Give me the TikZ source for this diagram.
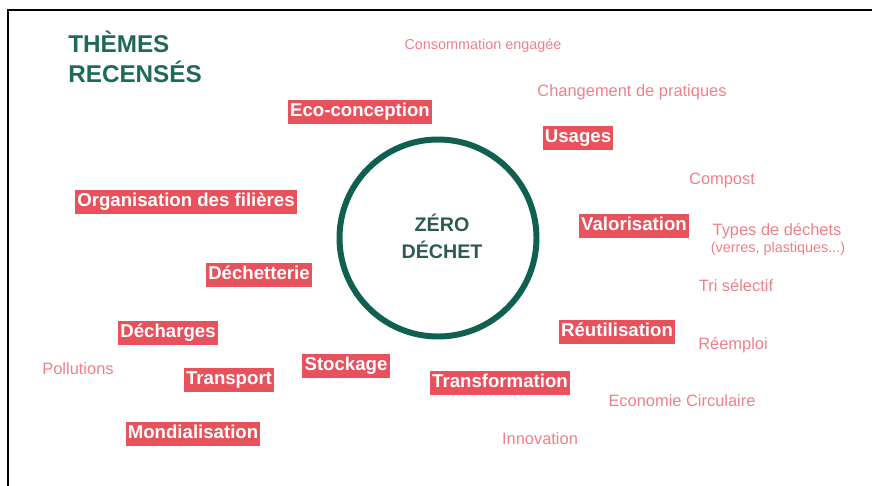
\documentclass[tikz,border=0pt]{standalone}
\usepackage{fontspec}
\setmainfont{Liberation Sans}
\usetikzlibrary{positioning}
\definecolor{zdteal}{RGB}{16,96,82}
\definecolor{zdtitle}{RGB}{30,105,88}
\definecolor{zdcentre}{RGB}{45,90,82}
\definecolor{zdred}{RGB}{232,82,92}
\definecolor{zdpink}{RGB}{240,128,136}

\begin{document}
\begin{tikzpicture}[x=0.02cm, y=-0.02cm,
    theme/.style={fill=zdred, text=white, font=\bfseries\fontsize{10.6}{12}\selectfont,
      inner xsep=1.2pt, inner ysep=1.6pt, text height=8pt, text depth=2.4pt},
    subtheme/.style={text=zdpink, font=\fontsize{9.35}{11}\selectfont, inner sep=0pt},
    smallsub/.style={text=zdpink, font=\fontsize{8.2}{10}\selectfont, inner sep=0pt},
    heading/.style={text=zdtitle, font=\bfseries\fontsize{13.8}{17}\selectfont, inner sep=0pt, anchor=base west},
    centre/.style={text=zdcentre, font=\bfseries\fontsize{11.2}{14}\selectfont, inner sep=0pt, anchor=base}]
    \useasboundingbox (0,0) rectangle (872,486);
    % frame
    \draw[line width=1.2pt] (8,486) -- (8,10) -- (872,10);
    % title
    \node[heading] at (68,53) (titre1) {THÈMES};
    \node[heading] at (68,83) (titre2) {RECENSÉS};
    % centre
    \node[circle, draw=zdteal, line width=3.4pt, minimum size=197*0.02cm] at (438,238) (zd) {};
    \node[centre] at (442,232) (zero) {ZÉRO};
    \node[centre] at (442,258) (dechet) {DÉCHET};
    % main themes
    \node[theme] at (360,112) (ecoconception) {Eco-conception};
    \node[theme] at (578,138) (usages) {Usages};
    \node[theme] at (186,202) (organisation) {Organisation des filières};
    \node[theme] at (259,275) (dechetterie) {Déchetterie};
    \node[theme] at (634,226) (valorisation) {Valorisation};
    \node[theme] at (617,332) (reutilisation) {Réutilisation};
    \node[theme] at (168,333) (decharges) {Décharges};
    \node[theme] at (229,380) (transport) {Transport};
    \node[theme] at (193,434) (mondialisation) {Mondialisation};
    \node[theme] at (346,366) (stockage) {Stockage};
    \node[theme] at (500,383) (transformation) {Transformation};
    % sub themes
    \node[smallsub] at (483,46) (consommation) {Consommation engagée};
    \node[subtheme] at (632,92) (pratiques) {Changement de pratiques};
    \node[subtheme] at (722,180) (compost) {Compost};
    \node[subtheme] at (777,231) (types) {Types de déchets};
    \node[smallsub] at (778,249) (verres) {(verres, plastiques...)};
    \node[subtheme] at (736,286) (tri) {Tri sélectif};
    \node[subtheme] at (733,345) (reemploi) {Réemploi};
    \node[subtheme] at (682,401) (economie) {Economie Circulaire};
    \node[subtheme] at (540,439) (innovation) {Innovation};
    \node[subtheme] at (78,369) (pollutions) {Pollutions};
\end{tikzpicture}
\end{document}
